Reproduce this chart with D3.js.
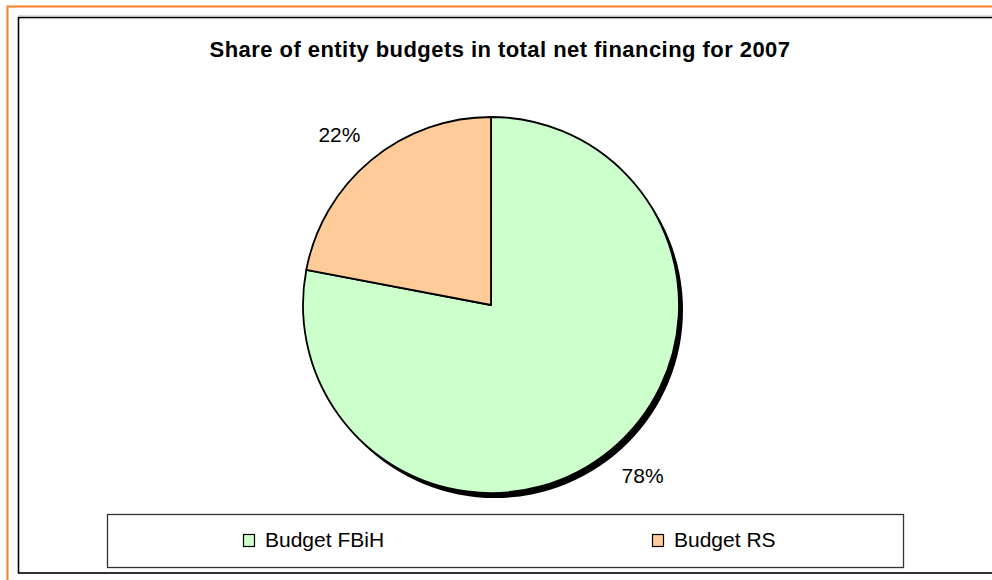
<!DOCTYPE html>
<html>
<head>
<meta charset="utf-8">
<script src="https://cdn.jsdelivr.net/npm/d3@7"></script>
<style>
  html, body { margin: 0; padding: 0; background: #fff; }
  svg { display: block; font-family: Arial, "Liberation Sans", sans-serif; }
</style>
</head>
<body>
<svg id="chart" width="992" height="580"></svg>
<script>
// Net financing shares by entity budget, 2007
const categories = ["Budget FBiH", "Budget RS"];
const shares = [78, 22];
const colors = ["#CCFFCC", "#FFCC99"];
const title = "Share of entity budgets in total net financing for 2007";

const svg = d3.select("#chart");

// outer page frame and chart area border
svg.append("rect")
  .attr("x", 7.5).attr("y", 6.5).attr("width", 1000).attr("height", 600)
  .attr("fill", "none").attr("stroke", "#FF7F27").attr("stroke-width", 2);
svg.append("rect")
  .attr("x", 18.5).attr("y", 17.5).attr("width", 990).attr("height", 555.5)
  .attr("fill", "#fff").attr("stroke", "#000").attr("stroke-width", 1.6);
svg.append("line")
  .attr("x1", 18).attr("x2", 992).attr("y1", 16).attr("y2", 16)
  .attr("stroke", "#bbb").attr("stroke-width", 1);

svg.append("text")
  .attr("x", 500).attr("y", 57)
  .attr("text-anchor", "middle")
  .attr("font-weight", "bold").attr("font-size", 22)
  .attr("letter-spacing", 0.45)
  .attr("fill", "#000")
  .text(title);

const cx = 491, cy = 305, r = 188;

const pie = d3.pie().sort(null).value(d => d.value);
const data = pie(categories.map((c, i) => ({ name: c, value: shares[i], color: colors[i] })));
const arc = d3.arc().innerRadius(0).outerRadius(r);
const labelR = r * 1.215;

const g = svg.append("g").attr("transform", `translate(${cx},${cy})`);

// drop shadow under the pie
g.append("circle")
  .attr("cx", 4).attr("cy", 5).attr("r", r)
  .attr("fill", "#000");

g.selectAll("path.slice")
  .data(data)
  .join("path")
  .attr("class", "slice")
  .attr("d", arc)
  .attr("fill", d => d.data.color)
  .attr("stroke", "#000")
  .attr("stroke-width", 1.8)
  .attr("stroke-linejoin", "round");

// percentage labels sit outside the rim, nudged away from the vertical axis
g.selectAll("text.pct")
  .data(data)
  .join("text")
  .attr("class", "pct")
  .attr("transform", d => {
    const a = (d.startAngle + d.endAngle) / 2;
    const side = Math.sin(a) >= 0 ? 1 : -1;
    const x = labelR * Math.sin(a) + side * 6;
    const y = -labelR * Math.cos(a) + (Math.cos(a) >= 0 ? 6 : -6);
    return `translate(${x},${y})`;
  })
  .attr("text-anchor", "middle")
  .attr("dominant-baseline", "central")
  .attr("font-size", 21)
  .attr("fill", "#000")
  .text(d => d.data.value + "%");

// legend
const legend = svg.append("g");
legend.append("rect")
  .attr("x", 107.5).attr("y", 514.5).attr("width", 796).attr("height", 53)
  .attr("fill", "#fff").attr("stroke", "#333").attr("stroke-width", 1.3);

const legendX = d3.scalePoint().domain(categories).range([243, 652]);
const items = legend.selectAll("g.item")
  .data(data)
  .join("g")
  .attr("class", "item")
  .attr("transform", d => `translate(${legendX(d.data.name)},534)`);
items.append("rect")
  .attr("x", 0.5).attr("y", 0.5).attr("width", 11).attr("height", 12)
  .attr("fill", d => d.data.color)
  .attr("stroke", "#000").attr("stroke-width", 1.2);
items.append("text")
  .attr("x", 22).attr("y", 13)
  .attr("font-size", 21)
  .attr("fill", "#000")
  .text(d => d.data.name);
</script>
</body>
</html>
